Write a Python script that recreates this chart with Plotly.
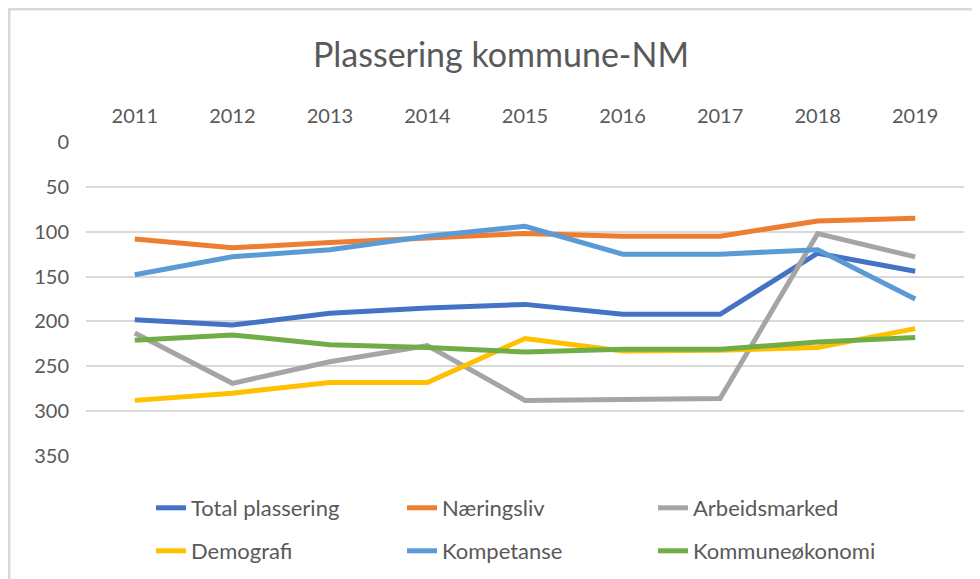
import plotly.graph_objects as go

years = ["2011", "2012", "2013", "2014", "2015", "2016", "2017", "2018", "2019"]
total_plassering = [198, 204, 191, 185, 181, 192, 192, 124, 144]
naeringsliv = [108, 118, 112, 107, 102, 105, 105, 88, 85]
arbeidsmarked = [213, 269, 245, 227, 288, 287, 286, 102, 128]
demografi = [288, 280, 268, 268, 219, 233, 232, 229, 208]
kompetanse = [148, 128, 120, 105, 94, 125, 125, 120, 175]
kommuneokonomi = [221, 215, 226, 229, 234, 231, 231, 223, 218]

series = [
    ("Total plassering", total_plassering, "#4472C4", "legend"),
    ("Næringsliv", naeringsliv, "#ED7D31", "legend"),
    ("Arbeidsmarked", arbeidsmarked, "#A5A5A5", "legend"),
    ("Demografi", demografi, "#FFC000", "legend2"),
    ("Kompetanse", kompetanse, "#5B9BD5", "legend2"),
    ("Kommuneøkonomi", kommuneokonomi, "#70AD47", "legend2"),
]

W, H = 980, 579
OFF = 8  # page body margin offset
L, T = 86 - OFF, 142 - OFF
R = W - (964 - OFF)
B = H - (456 - OFF)
pw, ph = W - L - R, H - T - B

def px_x(p):
    return (p - OFF - L) / pw

def px_y(p):
    return (H - B - (p - OFF)) / ph

fig = go.Figure()
for name, vals, color, lg in series:
    fig.add_trace(go.Scatter(
        x=years, y=vals, name=name, mode="lines",
        line=dict(color=color, width=5),
        legend=lg,
    ))

font = "Lato, 'Open Sans', sans-serif"
grey = "#595959"

legend_common = dict(
    orientation="h", xanchor="left", yanchor="middle",
    font=dict(family=font, size=22, color=grey),
    entrywidth=206, entrywidthmode="pixels",
    bgcolor="rgba(0,0,0,0)", borderwidth=0,
)

fig.update_layout(
    width=W, height=H,
    margin=dict(l=L, r=R, t=T, b=B, autoexpand=False),
    paper_bgcolor="white", plot_bgcolor="white",
    title=dict(text="Plassering kommune-NM", x=(501 - OFF) / W, xanchor="center",
               y=1 - (55 - OFF) / H, yanchor="middle",
               font=dict(family=font, size=34, color=grey)),
    xaxis=dict(side="top", type="category", showgrid=False, showline=False,
               ticks="", tickfont=dict(family=font, size=20, color=grey),
               ticklabelstandoff=14, range=[-0.5, 8.5], automargin=False),
    yaxis=dict(range=[350, 0], autorange=False, tickvals=[0, 50, 100, 150, 200, 250, 300, 350],
               showgrid=True, gridcolor="#D9D9D9", gridwidth=1.5, zeroline=False,
               showline=False, ticks="", tickfont=dict(family=font, size=20, color=grey),
               ticklabelstandoff=16, automargin=False),
    legend=dict(x=px_x(151), y=px_y(508), **legend_common),
    legend2=dict(x=px_x(151), y=px_y(551), **legend_common),
    shapes=[dict(type="rect", xref="paper", yref="paper",
                 x0=px_x(9), x1=px_x(1000), y0=px_y(600), y1=px_y(9),
                 line=dict(color="#D9D9D9", width=3), fillcolor="rgba(0,0,0,0)",
                 layer="below")],
)

fig.write_html("out.html")
